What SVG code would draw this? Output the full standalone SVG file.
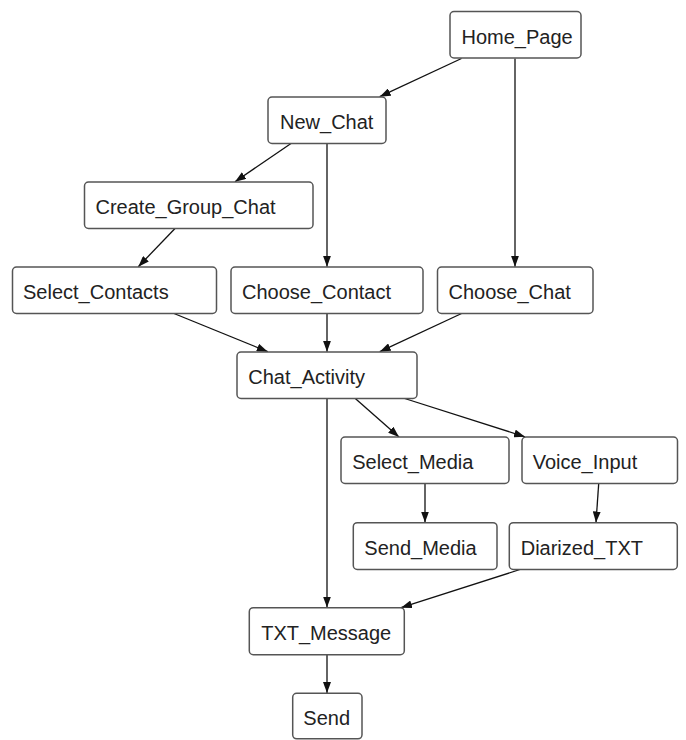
<svg xmlns="http://www.w3.org/2000/svg" width="686" height="740" viewBox="0 0 686 740">
<style>
.node rect{fill:#ffffff;stroke:#555555;stroke-width:1.5}
.node text{font-family:"Liberation Sans",Arial,sans-serif;font-size:20px;fill:#222222}
.edges line{stroke:#111111;stroke-width:1.3;fill:none}
</style>
<defs>
<marker id="arr" viewBox="0 0 11 8" refX="11" refY="4" markerWidth="11" markerHeight="8" orient="auto" markerUnits="userSpaceOnUse">
<path d="M0,0 L11,4 L0,8 z" fill="#111111"/>
</marker>
</defs>
<rect x="0" y="0" width="686" height="740" fill="#ffffff"/>
<g class="edges">
<line x1="461.5" y1="58.5" x2="379.7" y2="96.7" marker-end="url(#arr)"/>
<line x1="515" y1="58.5" x2="515" y2="266.7" marker-end="url(#arr)"/>
<line x1="291" y1="143.5" x2="235" y2="181.7" marker-end="url(#arr)"/>
<line x1="327" y1="143.5" x2="327" y2="266.7" marker-end="url(#arr)"/>
<line x1="175" y1="228.5" x2="138.3" y2="266.7" marker-end="url(#arr)"/>
<line x1="174" y1="313.5" x2="267.8" y2="351.7" marker-end="url(#arr)"/>
<line x1="327" y1="313.5" x2="327" y2="351.7" marker-end="url(#arr)"/>
<line x1="461.6" y1="313.5" x2="379.8" y2="351.7" marker-end="url(#arr)"/>
<line x1="327" y1="398.5" x2="327" y2="607.5" marker-end="url(#arr)"/>
<line x1="355.3" y1="398.5" x2="399" y2="437" marker-end="url(#arr)"/>
<line x1="404.7" y1="398.5" x2="525" y2="436.8" marker-end="url(#arr)"/>
<line x1="425" y1="483.5" x2="425" y2="522.5" marker-end="url(#arr)"/>
<line x1="598.7" y1="483.5" x2="596" y2="522.5" marker-end="url(#arr)"/>
<line x1="520" y1="569.5" x2="401" y2="607.7" marker-end="url(#arr)"/>
<line x1="327" y1="654.5" x2="327" y2="693" marker-end="url(#arr)"/>
</g>
<g id="Home_Page" class="node"><rect x="450" y="11.5" width="131" height="46.5" rx="4"/><text x="461.5" y="43.5">Home_Page</text></g>
<g id="New_Chat" class="node"><rect x="268" y="97" width="118" height="46.5" rx="4"/><text x="280" y="129">New_Chat</text></g>
<g id="Create_Group_Chat" class="node"><rect x="84.5" y="182" width="228.5" height="46.5" rx="4"/><text x="95.5" y="214">Create_Group_Chat</text></g>
<g id="Select_Contacts" class="node"><rect x="12.5" y="267" width="204" height="46.5" rx="4"/><text x="23" y="299">Select_Contacts</text></g>
<g id="Choose_Contact" class="node"><rect x="231" y="267" width="192" height="46.5" rx="4"/><text x="242" y="299">Choose_Contact</text></g>
<g id="Choose_Chat" class="node"><rect x="437.5" y="267" width="155.5" height="46.5" rx="4"/><text x="448.5" y="299">Choose_Chat</text></g>
<g id="Chat_Activity" class="node"><rect x="237" y="352" width="180" height="46.5" rx="4"/><text x="248.3" y="384.3">Chat_Activity</text></g>
<g id="Select_Media" class="node"><rect x="341" y="437" width="168" height="46.5" rx="4"/><text x="352.2" y="469">Select_Media</text></g>
<g id="Voice_Input" class="node"><rect x="522" y="437" width="155.5" height="46.5" rx="4"/><text x="532.7" y="469">Voice_Input</text></g>
<g id="Send_Media" class="node"><rect x="353.3" y="522.7" width="143.7" height="46.8" rx="4"/><text x="364.3" y="554.7">Send_Media</text></g>
<g id="Diarized_TXT" class="node"><rect x="509.3" y="522.7" width="168" height="46.8" rx="4"/><text x="520.7" y="554.7">Diarized_TXT</text></g>
<g id="TXT_Message" class="node"><rect x="249.3" y="607.7" width="155" height="47" rx="4"/><text x="261.2" y="639.7">TXT_Message</text></g>
<g id="Send" class="node"><rect x="292.7" y="693.3" width="69.3" height="45.5" rx="4"/><text x="303.3" y="725.3">Send</text></g>
</svg>
